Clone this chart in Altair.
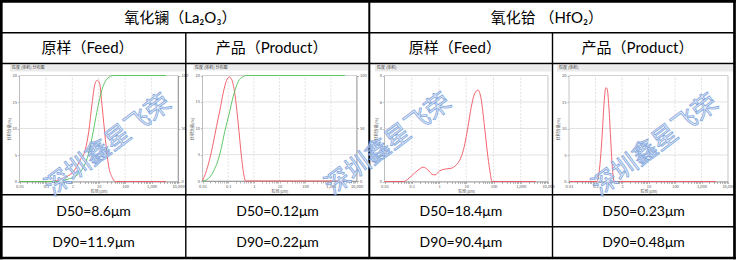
import altair as alt
import pandas as pd

# ---------------- text content ----------------
materials = ["氧化镧（La₂O₃）", "氧化铪 （HfO₂）"]
stages = ["原样（Feed）", "产品（Product）", "原样（Feed）", "产品（Product）"]
d50_labels = ["D50=8.6μm", "D50=0.12μm", "D50=18.4μm", "D50=0.23μm"]
d90_labels = ["D90=11.9μm", "D90=0.22μm", "D90=90.4μm", "D90=0.48μm"]
panel_titles = ["粒度 (体积) 分布图", "粒度 (体积) 分布图", "粒度 (体积)", "粒度 (体积)"]
x_axis_title = "粒径(μm)"
y_axis_title = "体积含量(%)"
watermark_text = "深圳鑫星飞荣"

# ---------------- series ----------------
x_decades = [0.01, 0.1, 1, 10, 100, 1000, 10000]

la_feed_size = [0.01, 0.146, 0.30, 0.63, 1.12, 2.0, 3.1, 4.2, 5.6, 7.1, 8.7, 10.7, 13.4, 17.9, 23.9, 32, 43, 3500]
la_feed_freq = [0, 0, 0.3, 0.95, 1.9, 4.1, 6.0, 9.5, 14.8, 18.3, 19.1, 18.6, 14.2, 7.9, 2.8, 0.8, 0, 0]
la_feed_cum_size = [0.01, 0.26, 0.63, 1.5, 2.7, 4.2, 6.5, 9.2, 13.4, 21, 37, 3500]
la_feed_cum = [0, 0, 2, 6, 14, 27, 50, 70, 87, 97, 100, 100]

la_prod_size = [0.01, 0.0143, 0.0194, 0.026, 0.035, 0.048, 0.064, 0.087, 0.11, 0.138, 0.18, 0.245, 0.33, 0.41, 0.48, 3500]
la_prod_freq = [0, 2.0, 4.3, 7.1, 10.3, 13.5, 16.7, 19.1, 19.7, 19.2, 16.7, 11.0, 4.6, 1.1, 0, 0]
la_prod_cum_size = [0.01, 0.0143, 0.026, 0.048, 0.074, 0.11, 0.157, 0.245, 0.38, 0.48, 3500]
la_prod_cum = [0, 1, 8.6, 26, 47, 64, 80, 94, 99, 100, 100]

hf_feed_size = [0.01, 0.051, 0.072, 0.126, 0.19, 0.26, 0.39, 0.55, 0.72, 1.05, 1.6, 2.8, 4.3, 6.2, 8.7,
                11.5, 15.2, 20, 27, 35, 47, 62, 78, 87, 3500]
hf_feed_freq = [0, 0, 0.18, 0.63, 0.93, 1.08, 0.88, 0.55, 0.5, 0.8, 0.93, 1.0, 1.25, 1.75, 2.75,
                4.1, 5.6, 6.6, 6.9, 6.25, 4.1, 1.9, 0.5, 0, 0]

hf_prod_size = [0.01, 0.11, 0.135, 0.16, 0.186, 0.214, 0.247, 0.275, 0.32, 0.37, 0.43, 0.51, 3500]
hf_prod_freq = [0, 0, 1.6, 5.3, 10.3, 15.3, 17.7, 17.5, 14.1, 8.4, 2.8, 0, 0]

freq_max = [20, 20, 8, 20]
freq_ticks = [[0, 5, 10, 15, 20], [0, 5, 10, 15, 20], [0, 2, 4, 6, 8], [0, 5, 10, 15, 20]]
cum_ticks = [0, 50, 100]

# ---------------- layout (pixels) ----------------
W, H = 739, 260
X0, X1, Y0, Y1 = 1.3, 734.5, 1.3, 258.0
H_LINES = [32.7, 63.5, 194.8, 226.8]
V_LINES = [185.8, 369.3, 552.5]
PLOTS = [(19.5, 178, 75.5, 181.5), (202.5, 356.5, 75.5, 181.0),
         (384.5, 548, 75.5, 181.5), (569, 728, 75.5, 181.5)]
BARS = [(10, 185, 65, 71.5), (193, 368, 64.5, 70.5), (375, 551.5, 65, 71.5), (557, 733, 65, 71.5)]
WATERMARKS = [(108, 145), (388, 144), (655, 145)]

RED = "#f0525c"
GREEN = "#4fc258"
GRID = "#d6d6d6"
TXT_FONT = "Lato, 'Noto Sans CJK SC', 'DejaVu Sans'"
CJK_FONT = "'Noto Sans CJK SC', 'DejaVu Sans'"

x_tick_values = [m * 10.0 ** k for k in range(-2, 4) for m in range(1, 10)] + [10000.0]
decade_label = ("abs(log(datum.value)/LN10 - round(log(datum.value)/LN10)) < 0.001 ? "
                "format(datum.value, ',') : ''")

axis_style = dict(labelFontSize=4, titleFontSize=4, labelColor="#555", titleColor="#555",
                  domainColor="#8a8a8a", tickColor="#8a8a8a", tickSize=2, tickWidth=0.6,
                  domainWidth=0.8, labelPadding=1, titlePadding=1, grid=False,
                  labelFont=CJK_FONT, titleFont=CJK_FONT, titleFontWeight="normal")


def panel(i, size, freq, cum_size=None, cum=None):
    L, R, T, B = PLOTS[i]
    ymax = freq_max[i]
    xs = alt.Scale(type="log", domain=[0.01, 10000], range=[L, R], nice=False)
    ys = alt.Scale(type="linear", domain=[0, ymax], range=[B, T], nice=False, zero=False)
    xaxis = alt.Axis(orient="bottom", offset=B - H, values=x_tick_values, labelExpr=decade_label,
                     title=x_axis_title, labelFlush=False, labelOverlap=False, **axis_style)
    yaxis = alt.Axis(orient="left", offset=-L, values=freq_ticks[i], title=y_axis_title,
                     labelOverlap=False, **axis_style)
    one = pd.DataFrame({"a": [0]})
    frame = alt.Chart(one).mark_rect(fill="white", stroke="#a0a0a0", strokeWidth=0.6).encode(
        x=alt.XDatum(0.01, scale=xs, axis=xaxis), x2=alt.X2Datum(10000),
        y=alt.YDatum(0, scale=ys, axis=yaxis), y2=alt.Y2Datum(ymax))
    hgrid = alt.Chart(pd.DataFrame({"v": freq_ticks[i][1:]})).mark_rule(
        color=GRID, strokeWidth=0.7).encode(
        y=alt.Y("v:Q", scale=ys, axis=yaxis),
        x=alt.XDatum(0.01, scale=xs, axis=xaxis), x2=alt.X2Datum(10000))
    vgrid = alt.Chart(pd.DataFrame({"v": x_decades[1:-1]})).mark_rule(
        color=GRID, strokeWidth=0.7, strokeDash=[2, 1.5]).encode(
        x=alt.X("v:Q", scale=xs, axis=xaxis),
        y=alt.YDatum(0, scale=ys, axis=yaxis), y2=alt.Y2Datum(ymax))
    red = alt.Chart(pd.DataFrame({"s": size, "f": freq})).mark_line(
        color=RED, strokeWidth=0.9, interpolate="monotone").encode(
        x=alt.X("s:Q", scale=xs, axis=xaxis), y=alt.Y("f:Q", scale=ys, axis=yaxis))
    base = alt.layer(frame, hgrid, vgrid, red)
    if cum is None:
        return base
    ys2 = alt.Scale(type="linear", domain=[0, 100], range=[B, T], nice=False)
    y2axis = alt.Axis(orient="right", offset=R - W, values=cum_ticks, title=None, **axis_style)
    green = alt.Chart(pd.DataFrame({"s": cum_size, "c": cum})).mark_line(
        color=GREEN, strokeWidth=0.9, interpolate="monotone").encode(
        x=alt.X("s:Q", scale=xs, axis=xaxis), y=alt.Y("c:Q", scale=ys2, axis=y2axis))
    return alt.layer(base, green).resolve_scale(y="independent")


panels = [
    panel(0, la_feed_size, la_feed_freq, la_feed_cum_size, la_feed_cum),
    panel(1, la_prod_size, la_prod_freq, la_prod_cum_size, la_prod_cum),
    panel(2, hf_feed_size, hf_feed_freq),
    panel(3, hf_prod_size, hf_prod_freq),
]

# ---------------- table ----------------
px = dict(scale=None, axis=None)

bars_df = pd.DataFrame({"x": [b[0] for b in BARS], "x2": [b[1] for b in BARS],
                        "y": [b[2] for b in BARS], "y2": [b[3] for b in BARS],
                        "t": panel_titles})
bars = alt.Chart(bars_df).mark_rect(fill="#ebebeb").encode(
    x=alt.X("x:Q", **px), x2="x2:Q", y=alt.Y("y:Q", **px), y2="y2:Q")
bar_text = alt.Chart(bars_df).transform_calculate(tx="datum.x + 2", ty="(datum.y + datum.y2) / 2").mark_text(
    align="left", baseline="middle", fontSize=4, font=CJK_FONT, color="#444").encode(
    x=alt.X("tx:Q", **px), y=alt.Y("ty:Q", **px), text="t:N")

lines = []
for (a, b, c, d) in [(X0, X1, Y0, Y0), (X0, X1, Y1, Y1), (X0, X0, Y0, Y1), (X1, X1, Y0, Y1)]:
    lines.append((a, b, c, d, 2.7))
for y in H_LINES:
    lines.append((X0, X1, y, y, 1.4))
lines.append((V_LINES[0], V_LINES[0], H_LINES[0], Y1, 1.4))
lines.append((V_LINES[1], V_LINES[1], Y0, Y1, 2.0))
lines.append((V_LINES[2], V_LINES[2], H_LINES[0], Y1, 1.4))
lines_df = pd.DataFrame(lines, columns=["x", "x2", "y", "y2", "w"])
grid_lines = alt.Chart(lines_df).mark_rule(color="black", strokeCap="square").encode(
    x=alt.X("x:Q", **px), x2="x2:Q", y=alt.Y("y:Q", **px), y2="y2:Q",
    strokeWidth=alt.StrokeWidth("w:Q", scale=None, legend=None))

cols = [X0, V_LINES[0], V_LINES[1], V_LINES[2], X1]
col_c = [(cols[k] + cols[k + 1]) / 2 for k in range(4)]
head_c = [(X0 + V_LINES[1]) / 2, (V_LINES[1] + X1) / 2]
rows_y = [17.5, 48.0, 211.5, 243.0]

cells = []
for k, t in enumerate(materials):
    cells.append((t, head_c[k] - 5, rows_y[0], 15))
for k, t in enumerate(stages):
    cells.append((t, col_c[k] - 6, rows_y[1], 15))
for k, t in enumerate(d50_labels):
    cells.append((t, col_c[k], rows_y[2], 14))
for k, t in enumerate(d90_labels):
    cells.append((t, col_c[k], rows_y[3], 14))
cells_df = pd.DataFrame(cells, columns=["t", "x", "y", "fs"])
cell_text = alt.Chart(cells_df).mark_text(
    align="center", baseline="middle", font=TXT_FONT, color="black").encode(
    x=alt.X("x:Q", **px), y=alt.Y("y:Q", **px), text="t:N",
    size=alt.Size("fs:Q", scale=None, legend=None))

wm_df = pd.DataFrame({"x": [w[0] for w in WATERMARKS], "y": [w[1] for w in WATERMARKS],
                      "t": [watermark_text] * len(WATERMARKS)})
wm = alt.Chart(wm_df).mark_text(
    align="center", baseline="middle", fontSize=25, font=CJK_FONT, angle=323,
    fill="#e2ebf8", stroke="#7099d8", strokeWidth=0.8, opacity=0.85).encode(
    x=alt.X("x:Q", **px), y=alt.Y("y:Q", **px), text="t:N")

chart = alt.layer(bars, bar_text, *panels, grid_lines, cell_text, wm).resolve_scale(
    x="independent", y="independent").properties(
    width=W, height=H, padding=0, autosize=alt.AutoSizeParams(type="none"),
    background="white").configure_view(stroke="transparent")

chart.save("out.html", embed_options={"renderer": "svg", "actions": False})
